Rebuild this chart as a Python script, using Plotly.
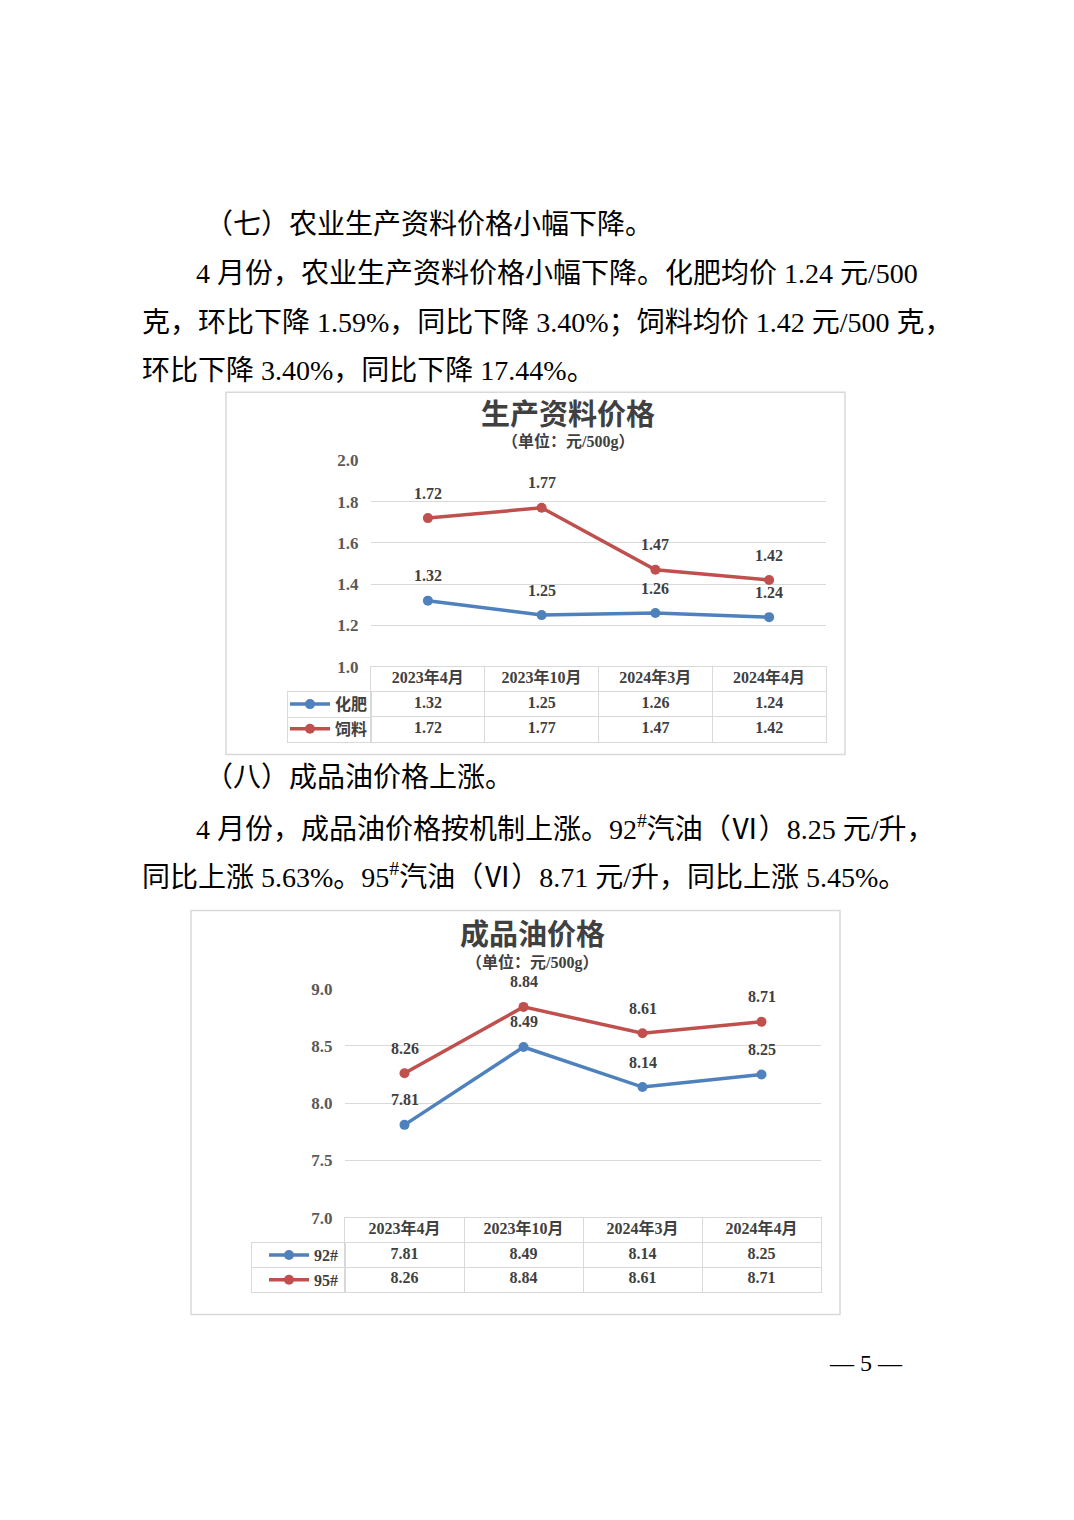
import plotly.graph_objects as go

# The page is shown with an 8px body margin, so the figure is sized to fit
# inside it and every reference pixel position is shifted by that margin.
PAGE_MARGIN = 8
W, H = 1074 - 2 * PAGE_MARGIN, 1520 - 2 * PAGE_MARGIN


def px(x):
    return (x - PAGE_MARGIN) / W


def py(y):
    return 1 - (y - PAGE_MARGIN) / H


# ---------------- data ----------------
categories = ["2023年4月", "2023年10月", "2024年3月", "2024年4月"]
fertilizer = [1.32, 1.25, 1.26, 1.24]   # 化肥
feed = [1.72, 1.77, 1.47, 1.42]         # 饲料
gas92 = [7.81, 8.49, 8.14, 8.25]        # 92#
gas95 = [8.26, 8.84, 8.61, 8.71]        # 95#
yticks1 = [1.0, 1.2, 1.4, 1.6, 1.8, 2.0]
yticks2 = [7.0, 7.5, 8.0, 8.5, 9.0]
series1_names = ["化肥", "饲料"]
series2_names = ["92#", "95#"]

BLUE = "#4F81BD"
RED = "#C0504D"
GRID = "#d9d9d9"
DARK = "#404040"
SERIF = "Liberation Serif, Noto Sans CJK SC"

fig = go.Figure()


# ---------------- line traces ----------------
def add_series(x, y, name, color, xa, ya, legend):
    fig.add_trace(go.Scatter(
        x=x, y=y, name=name, mode="lines+markers",
        line=dict(color=color, width=3.5),
        marker=dict(color=color, size=10),
        xaxis=xa, yaxis=ya, legend=legend, hoverinfo="skip",
    ))


add_series(categories, fertilizer, series1_names[0], BLUE, "x", "y", "legend")
add_series(categories, feed, series1_names[1], RED, "x", "y", "legend2")
add_series(categories, gas92, series2_names[0], BLUE, "x2", "y2", "legend3")
add_series(categories, gas95, series2_names[1], RED, "x2", "y2", "legend4")

# ---------------- data tables (text traces on grid axes) ----------------
cell_font = dict(family=SERIF, size=16, color=DARK)
col_idx = list(range(len(categories)))


def add_table(xa, ya, header, row1, row2):
    rows = [(2.5, [f"<b>{c}</b>" for c in header]),
            (1.5, [f"<b>{v:.2f}</b>" for v in row1]),
            (0.5, [f"<b>{v:.2f}</b>" for v in row2])]
    for yv, txt in rows:
        fig.add_trace(go.Scatter(
            x=col_idx, y=[yv] * len(col_idx), text=txt, mode="text",
            textposition="middle center", textfont=cell_font,
            xaxis=xa, yaxis=ya, showlegend=False, hoverinfo="skip",
            cliponaxis=False,
        ))


add_table("x3", "y3", categories, fertilizer, feed)
add_table("x5", "y5", categories, gas92, gas95)
# invisible anchor points so the legend-column grid boxes are drawn
for xa, ya in [("x4", "y4"), ("x6", "y6")]:
    fig.add_trace(go.Scatter(x=[0.5], y=[1], mode="markers",
                             marker=dict(size=1, opacity=0),
                             xaxis=xa, yaxis=ya, showlegend=False,
                             hoverinfo="skip"))

# ---------------- annotations ----------------
ann = []
label_font = dict(family=SERIF, size=16, color=DARK)
for xa, ya, series in [("x", "y", [fertilizer, feed]), ("x2", "y2", [gas92, gas95])]:
    for s in series:
        for c, v in zip(categories, s):
            ann.append(dict(x=c, y=v, xref=xa, yref=ya, text=f"<b>{v:.2f}</b>",
                            showarrow=False, yshift=25, font=label_font))


def text(x, y, t, size=28, anchor="left", color="#000", bold=False):
    ann.append(dict(x=px(x), y=py(y), xref="paper", yref="paper",
                    text=f"<b>{t}</b>" if bold else t, showarrow=False,
                    xanchor=anchor, yanchor="middle",
                    font=dict(family=SERIF, size=size, color=color)))


# body text
text(203, 218, "（七）农业生产资料价格小幅下降。")
text(194, 268, "4 月份，农业生产资料价格小幅下降。化肥均价 1.24 元/500")
text(140, 317, "克，环比下降 1.59%，同比下降 3.40%；饲料均价 1.42 元/500 克，")
text(140, 366, "环比下降 3.40%，同比下降 17.44%。")
text(203, 778, "（八）成品油价格上涨。")
text(194, 829, "4 月份，成品油价格按机制上涨。92<sup>#</sup>汽油（Ⅵ）8.25 元/升，")
text(140, 877, "同比上涨 5.63%。95<sup>#</sup>汽油（Ⅵ）8.71 元/升，同比上涨 5.45%。")
text(866, 1371, "— 5 —", size=24, anchor="center")

# chart titles
text(568, 411, "生产资料价格", size=29, anchor="center", color=DARK, bold=True)
text(568, 438, "（单位：元/500g）", size=16, anchor="center", color=DARK, bold=True)
text(532, 938, "成品油价格", size=29, anchor="center", color=DARK, bold=True)
text(532, 966, "（单位：元/500g）", size=16, anchor="center", color=DARK, bold=True)

# ---------------- frames ----------------
shapes = [
    dict(type="rect", xref="paper", yref="paper", x0=px(226), x1=px(845),
         y0=py(755), y1=py(388), line=dict(color=GRID, width=1.5)),
    dict(type="rect", xref="paper", yref="paper", x0=px(191), x1=px(840),
         y0=py(1322), y1=py(913), line=dict(color=GRID, width=1.5)),
]

# ---------------- axes ----------------
tickfont = dict(family=SERIF, size=17, color="#595959", weight="bold")
xcommon = dict(type="category", range=[-0.5, 3.5], showticklabels=False,
               showgrid=False, zeroline=False, showline=False, fixedrange=True)
ycommon = dict(showgrid=True, gridcolor=GRID, gridwidth=1, zeroline=False,
               showline=False, ticks="outside", ticklen=8,
               tickcolor="rgba(0,0,0,0)", tickfont=tickfont, tickformat=".1f",
               fixedrange=True)
gridax = dict(showgrid=True, gridcolor=GRID, gridwidth=1, zeroline=False,
              showline=True, mirror=True, linecolor=GRID, linewidth=1,
              showticklabels=False, ticks="", dtick=1, fixedrange=True)

legend_common = dict(bgcolor="rgba(0,0,0,0)", borderwidth=0, xanchor="left",
                     yanchor="middle", itemwidth=40,
                     font=dict(family=SERIF, size=16, color=DARK, weight="bold"))

fig.update_layout(
    width=W, height=H, margin=dict(l=0, r=0, t=0, b=0),
    paper_bgcolor="white", plot_bgcolor="rgba(0,0,0,0)",
    showlegend=True,
    xaxis=dict(domain=[px(371), px(826)], anchor="y", **xcommon),
    yaxis=dict(domain=[py(666), py(457)], anchor="x", range=[1.0, 2.0],
               tickvals=yticks1, **ycommon),
    xaxis2=dict(domain=[px(345), px(821)], anchor="y2", **xcommon),
    yaxis2=dict(domain=[py(1224), py(992)], anchor="x2", range=[7.0, 9.0],
                tickvals=yticks2, **ycommon),
    # table grids, chart 1
    xaxis3=dict(domain=[px(371), px(826)], anchor="y3", range=[-0.5, 3.5],
                tick0=-0.5, **gridax),
    yaxis3=dict(domain=[py(742), py(666)], anchor="x3", range=[0, 3],
                tick0=0, **gridax),
    xaxis4=dict(domain=[px(288), px(371)], anchor="y4", range=[0, 1],
                tick0=0, **gridax),
    yaxis4=dict(domain=[py(742), py(692)], anchor="x4", range=[0, 2],
                tick0=0, **gridax),
    # table grids, chart 2
    xaxis5=dict(domain=[px(345), px(821)], anchor="y5", range=[-0.5, 3.5],
                tick0=-0.5, **gridax),
    yaxis5=dict(domain=[py(1299), py(1224)], anchor="x5", range=[0, 3],
                tick0=0, **gridax),
    xaxis6=dict(domain=[px(252), px(345)], anchor="y6", range=[0, 1],
                tick0=0, **gridax),
    yaxis6=dict(domain=[py(1299), py(1250)], anchor="x6", range=[0, 2],
                tick0=0, **gridax),
    legend=dict(x=px(285), y=py(704), **legend_common),
    legend2=dict(x=px(285), y=py(729), **legend_common),
    legend3=dict(x=px(264), y=py(1262), **legend_common),
    legend4=dict(x=px(264), y=py(1287), **legend_common),
    annotations=ann,
    shapes=shapes,
)

fig.write_html("out.html")
